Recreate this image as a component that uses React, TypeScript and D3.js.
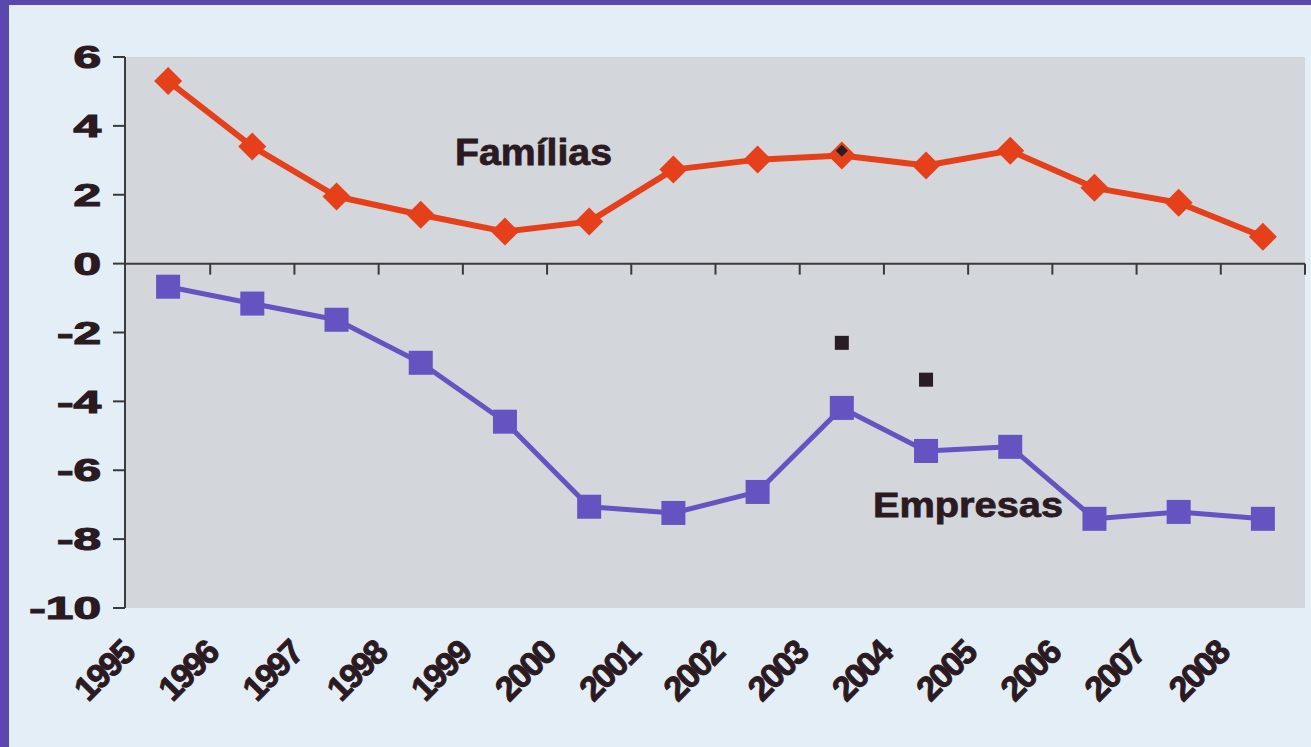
import * as d3 from 'd3';

const years = ['1995', '1996', '1997', '1998', '1999', '2000', '2001', '2002', '2003', '2004', '2005', '2006', '2007', '2008'];
const familias = [5.3, 3.4, 1.95, 1.42, 0.93, 1.22, 2.73, 3.02, 3.14, 2.85, 3.28, 2.2, 1.77, 0.78];
const empresas = [-0.67, -1.16, -1.63, -2.88, -4.59, -7.06, -7.24, -6.63, -4.19, -5.44, -5.32, -7.41, -7.21, -7.41];
// stray dark marks printed in the original chart
const strayYears = ['2003', '2004'];
const strayValues = [-2.3, -3.37];
const strayDiamondYear = '2003';
const strayDiamondValue = 3.28;
const yTicks = [6, 4, 2, 0, -2, -4, -6, -8, -10];

const W = 1311;
const H = 747;
const plot = { left: 126, right: 1305, top: 57, bottom: 608 };

const RED = '#e5401a';
const PURPLE = '#6653c2';
const INK = '#2b1a1f';
const FONT = '"Liberation Sans", Arial, sans-serif';

export default function App() {
  const x = d3.scaleBand<string>().domain(years).range([plot.left, plot.right]).padding(0);
  const y = d3.scaleLinear().domain([-10, 6]).range([plot.bottom, plot.top]);
  const cx = (yr: string) => (x(yr) ?? 0) + x.bandwidth() / 2;

  const line = d3
    .line<number>()
    .x((_, i) => cx(years[i]))
    .y(d => y(d));

  const diamond = (s: number) => `M0,${-s} L${s},0 L0,${s} L${-s},0 Z`;
  const y0 = y(0);

  return (
    <svg width={W} height={H} style={{ position: 'absolute', left: 0, top: 0, display: 'block' }}>
      <rect x={0} y={0} width={W} height={H} fill="#e4eef7" />
      {/* purple frame */}
      <rect x={0} y={0} width={W} height={5} fill="#5b48ae" />
      <rect x={0} y={0} width={9} height={H} fill="#5b48ae" />

      <rect x={plot.left} y={plot.top} width={plot.right - plot.left} height={plot.bottom - plot.top} fill="#d3d6db" />

      {/* y axis */}
      <line x1={plot.left - 1} x2={plot.left - 1} y1={plot.top} y2={plot.bottom} stroke="#3a3a3a" strokeWidth={2} />
      {yTicks.map(t => (
        <g key={t}>
          <line x1={plot.left - 13} x2={plot.left - 1} y1={y(t)} y2={y(t)} stroke="#3a3a3a" strokeWidth={2} />
          <text
            transform={`translate(101,${y(t)}) scale(1.6,1)`}
            textAnchor="end"
            dy="0.36em"
            fontFamily={FONT}
            fontWeight="bold"
            fontSize={31}
            fill={INK}
            stroke={INK}
            strokeWidth={1.2}
          >
            {t}
          </text>
        </g>
      ))}

      {/* x axis at zero */}
      <line x1={plot.left - 1} x2={plot.right} y1={y0} y2={y0} stroke="#3a3a3a" strokeWidth={2} />
      {years.map(yr => (
        <line
          key={yr}
          x1={(x(yr) ?? 0) + x.bandwidth()}
          x2={(x(yr) ?? 0) + x.bandwidth()}
          y1={y0}
          y2={y0 + 11}
          stroke="#3a3a3a"
          strokeWidth={2}
        />
      ))}
      {years.map(yr => (
        <text
          key={yr}
          transform={`translate(${cx(yr) - 32},655) rotate(-45)`}
          textAnchor="end"
          fontFamily={FONT}
          fontWeight="bold"
          fontSize={34}
          letterSpacing={-2}
          fill={INK}
          stroke={INK}
          strokeWidth={1}
        >
          {yr}
        </text>
      ))}

      {/* Famílias */}
      <path d={line(familias) ?? ''} fill="none" stroke={RED} strokeWidth={6} strokeLinejoin="round" />
      {familias.map((v, i) => (
        <path key={i} d={diamond(14)} transform={`translate(${cx(years[i])},${y(v)})`} fill={RED} />
      ))}

      {/* Empresas */}
      <path d={line(empresas) ?? ''} fill="none" stroke={PURPLE} strokeWidth={5} strokeLinejoin="round" />
      {empresas.map((v, i) => (
        <rect key={i} x={cx(years[i]) - 12} y={y(v) - 12} width={24} height={24} fill={PURPLE} />
      ))}

      {/* stray marks */}
      {strayYears.map((yr, i) => (
        <rect key={yr} x={cx(yr) - 7} y={y(strayValues[i]) - 7} width={14} height={14} fill="#2a1c24" />
      ))}
      <path d={diamond(6)} transform={`translate(${cx(strayDiamondYear)},${y(strayDiamondValue)})`} fill="#2a1c24" />

      <text x={455} y={165} fontFamily={FONT} fontWeight="bold" fontSize={37} textLength={157} lengthAdjust="spacingAndGlyphs" fill={INK} stroke={INK} strokeWidth={0.8}>
        Famílias
      </text>
      <text x={873} y={517} fontFamily={FONT} fontWeight="bold" fontSize={35} textLength={190} lengthAdjust="spacingAndGlyphs" fill={INK} stroke={INK} strokeWidth={0.8}>
        Empresas
      </text>
    </svg>
  );
}
